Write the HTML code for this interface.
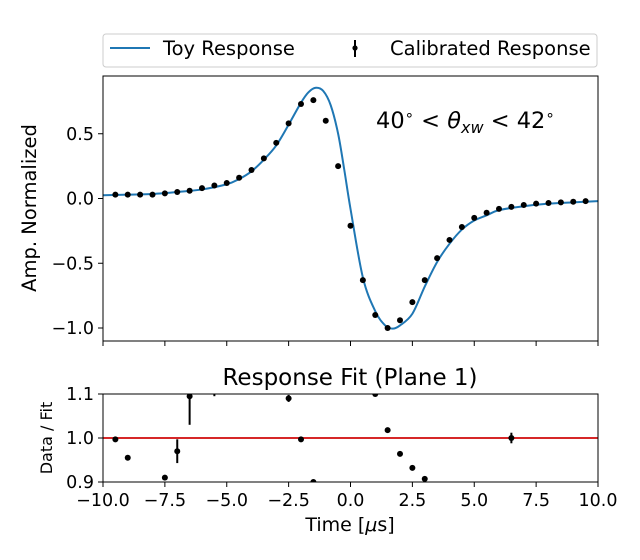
<!DOCTYPE html>
<html><head><meta charset="utf-8"><style>
html,body{margin:0;padding:0;background:#fff;}
svg{display:block;font-family:"DejaVu Sans","Liberation Sans",sans-serif;}
</style></head><body>
<svg id="chart" width="640" height="560" viewBox="0 0 640 560">
<defs>
<clipPath id="clipTop"><rect x="103" y="76" width="495" height="265"/></clipPath>
<clipPath id="clipBot"><rect x="103" y="394" width="495" height="88"/></clipPath>
</defs>
<g>
<rect x="103" y="34" width="494" height="33" rx="3" fill="#fff" stroke="#ccc" stroke-width="1"/>
<line x1="110" y1="48" x2="150" y2="48" stroke="#1f77b4" stroke-width="2"/>
<text x="163" y="55" font-size="19.5">Toy Response</text>
<line x1="355" y1="40" x2="355" y2="57" stroke="#000" stroke-width="2"/>
<circle cx="355" cy="48" r="2.6" fill="#000"/>
<text x="390" y="55" font-size="19.5">Calibrated Response</text>
</g>
<g id="topPlot"></g>
<g id="botPlot"></g>
<text x="376" y="128" font-size="22.5">40<tspan dy="-8" font-size="15">∘</tspan><tspan dy="8"> &lt; </tspan><tspan font-style="italic">θ</tspan><tspan dy="5" font-size="16" font-style="italic">xw</tspan><tspan dy="-5"> &lt; 42</tspan><tspan dy="-8" font-size="15">∘</tspan></text>
<text x="350" y="385" font-size="23" text-anchor="middle">Response Fit (Plane 1)</text>
<text transform="translate(36,208) rotate(-90)" font-size="19.5" text-anchor="middle">Amp. Normalized</text>
<text transform="translate(52,438) rotate(-90)" font-size="16" text-anchor="middle">Data / Fit</text>
<text x="350" y="531" font-size="19" text-anchor="middle">Time [<tspan font-style="italic">μ</tspan>s]</text>
</svg>
<script>
const dataX=[-9.5,-9,-8.5,-8,-7.5,-7,-6.5,-6,-5.5,-5,-4.5,-4,-3.5,-3,-2.5,-2,-1.5,-1,-0.5,0,0.5,1,1.5,2,2.5,3,3.5,4,4.5,5,5.5,6,6.5,7,7.5,8,8.5,9,9.5];
const dataY=[0.03,0.03,0.03,0.03,0.04,0.05,0.06,0.08,0.10,0.12,0.16,0.22,0.31,0.43,0.58,0.73,0.76,0.60,0.25,-0.21,-0.63,-0.90,-1.0,-0.94,-0.80,-0.63,-0.46,-0.32,-0.22,-0.15,-0.11,-0.08,-0.065,-0.05,-0.04,-0.035,-0.03,-0.025,-0.02];
const curveX=[-10,-9,-8,-7,-6,-5,-4.5,-4,-3.5,-3,-2.5,-2,-1.7,-1.4,-1.1,-0.8,-0.5,-0.25,0,0.5,1,1.4,1.7,2,2.5,3,3.5,4,4.5,5,5.5,6,7,8,9,10];
const curveY=[0.025,0.03,0.035,0.05,0.07,0.11,0.15,0.21,0.30,0.41,0.57,0.74,0.82,0.855,0.83,0.72,0.50,0.22,-0.08,-0.61,-0.87,-0.98,-1.005,-0.98,-0.89,-0.68,-0.49,-0.35,-0.24,-0.17,-0.13,-0.09,-0.06,-0.04,-0.03,-0.02];
const ratioX=[-9.5,-9,-7.5,-7,-6.5,-5.5,-2.5,-2,-1.5,1,1.5,2,2.5,3,6.5];
const ratioY=[0.997,0.955,0.91,0.97,1.095,1.12,1.09,0.997,0.9,1.1,1.018,0.964,0.932,0.907,1.0];
const ratioErr=[0.002,0.002,0.002,0.027,0.065,0.025,0.008,0.002,0.002,0.002,0.002,0.002,0.004,0.004,0.012];
const xTicks=[-10,-7.5,-5,-2.5,0,2.5,5,7.5,10];
const xTickLabels=["−10.0","−7.5","−5.0","−2.5","0.0","2.5","5.0","7.5","10.0"];
const yTicks=[-1,-0.5,0,0.5];
const yTickLabels=["−1.0","−0.5","0.0","0.5"];
const rTicks=[0.9,1.0,1.1];
const rTickLabels=["0.9","1.0","1.1"];

const NS="http://www.w3.org/2000/svg";
const X=v=>103+(v+10)*24.75;
const Y=v=>198.5-v*129.5;
const R=v=>438-(v-1)*440;
function mk(tag,attrs,parent){const e=document.createElementNS(NS,tag);for(const k in attrs)e.setAttribute(k,attrs[k]);parent.appendChild(e);return e;}
const topG=document.getElementById('topPlot'),botG=document.getElementById('botPlot');
const FS=17.5;

xTicks.forEach((t,i)=>{
 const l=mk('line',{x1:X(t),x2:X(t),y1:341,y2:346,stroke:'#000','stroke-width':1},topG);
 
 
 const l2=mk('line',{x1:X(t),x2:X(t),y1:482,y2:487,stroke:'#000','stroke-width':1},botG);
 
 
 const tx=mk('text',{x:X(t),y:506,'font-size':FS,'text-anchor':'middle'},botG);
 tx.textContent=xTickLabels[i];
 
 
});
yTicks.forEach((t,i)=>{
 const l=mk('line',{x1:98,x2:103,y1:Y(t),y2:Y(t),stroke:'#000','stroke-width':1},topG);
 
 
 const tx=mk('text',{x:94,y:Y(t)+6,'font-size':FS,'text-anchor':'end'},topG);
 tx.textContent=yTickLabels[i];
 
 
});
rTicks.forEach((t,i)=>{
 const l=mk('line',{x1:98,x2:103,y1:R(t),y2:R(t),stroke:'#000','stroke-width':1},botG);
 
 
 const tx=mk('text',{x:94,y:R(t)+6,'font-size':FS,'text-anchor':'end'},botG);
 tx.textContent=rTickLabels[i];
 
 
});

const pts=curveX.map((x,i)=>[X(x),Y(curveY[i])]);
let d='M'+pts[0][0]+','+pts[0][1];
for(let i=0;i<pts.length-1;i++){
 const p0=pts[Math.max(0,i-1)],p1=pts[i],p2=pts[i+1],p3=pts[Math.min(pts.length-1,i+2)];
 const c1=[p1[0]+(p2[0]-p0[0])/6,p1[1]+(p2[1]-p0[1])/6];
 const c2=[p2[0]-(p3[0]-p1[0])/6,p2[1]-(p3[1]-p1[1])/6];
 d+=' C'+c1+' '+c2+' '+p2;
}
const gTop=mk('g',{'clip-path':'url(#clipTop)'},topG);
const cv=mk('path',{d:d,fill:'none',stroke:'#1f77b4','stroke-width':2},gTop);


dataX.forEach((x,i)=>{
 const c=mk('circle',{cx:X(x),cy:Y(dataY[i]),r:3,fill:'#000'},gTop);
 
 
});
const f1=mk('rect',{x:103,y:76,width:495,height:265,fill:'none',stroke:'#000','stroke-width':1},topG);



const gBot=mk('g',{'clip-path':'url(#clipBot)'},botG);
const rl=mk('line',{x1:103,x2:598,y1:R(1),y2:R(1),stroke:'#d62728','stroke-width':2},gBot);


ratioX.forEach((x,i)=>{
 const e=mk('line',{x1:X(x),x2:X(x),y1:R(ratioY[i]+ratioErr[i]),y2:R(ratioY[i]-ratioErr[i]),stroke:'#000','stroke-width':2},gBot);
 
 
 const c=mk('circle',{cx:X(x),cy:R(ratioY[i]),r:3,fill:'#000'},gBot);
 
 
});
const f2=mk('rect',{x:103,y:394,width:495,height:88,fill:'none',stroke:'#000','stroke-width':1},botG);


</script>
</body></html>
